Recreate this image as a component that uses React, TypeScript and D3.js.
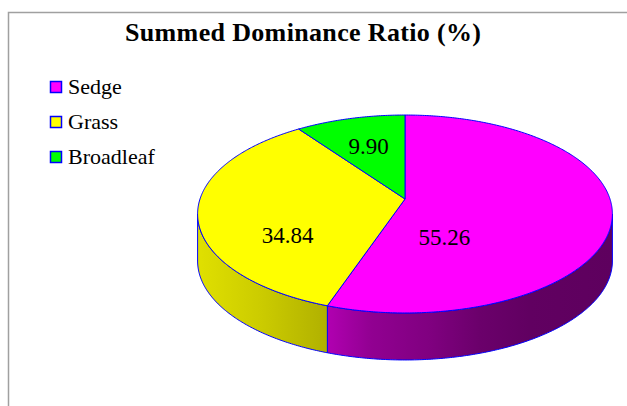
import React, { useEffect, useRef } from 'react';
import * as d3 from 'd3';

const categories = ['Sedge', 'Grass', 'Broadleaf'];
const values = [55.26, 34.84, 9.9];
const colors = ['#ff00ff', '#ffff00', '#00ff00'];
const labels = ['55.26', '34.84', '9.90'];
const title = 'Summed Dominance Ratio (%)';

const W = 627;
const H = 406;
const FONT = "'Liberation Serif', 'Times New Roman', Times, 'DejaVu Serif', serif";

export default function App() {
  const ref = useRef<SVGSVGElement>(null);

  useEffect(() => {
    const svg = d3.select(ref.current);
    svg.selectAll('*').remove();

    // pie geometry (perspective tilted disc)
    const cx = 405, cy = 199, rx = 205, ry = 96.7, k = -0.1515, depth = 47;
    const project = (t: number, r = 1): [number, number] => {
      const u = r * Math.sin(t);
      const v = -r * Math.cos(t);
      const d = 1 + k * v;
      return [cx + (rx * u) / d, cy + (ry * v) / d];
    };

    const fine = d3.range(0, 2 * Math.PI, 0.001);
    const tR = fine[d3.maxIndex(fine, (t) => project(t)[0])];
    const tL = fine[d3.minIndex(fine, (t) => project(t)[0])];
    const xMin = project(tL)[0];
    const xMax = project(tR)[0];

    const arcs = d3.pie<number>().sort(null).value((d) => d)(values);
    const line = d3.line<[number, number]>();
    const steps = (a: number, b: number) => {
      const n = Math.max(2, Math.ceil((b - a) / 0.01));
      return d3.range(n + 1).map((i) => a + ((b - a) * i) / n);
    };

    // frame
    svg.append('rect')
      .attr('x', 8.5).attr('y', 12.5)
      .attr('width', 700).attr('height', 500)
      .attr('fill', 'white')
      .attr('stroke', '#a0a0a0')
      .attr('stroke-width', 1.5);

    // side gradients
    const defs = svg.append('defs');
    const shade = [
      [0, 0.88], [0.15, 0.8], [0.315, 0.69], [0.42, 0.57],
      [0.56, 0.5], [0.68, 0.42], [0.8, 0.38], [1, 0.37],
    ];
    colors.forEach((c, i) => {
      const g = defs.append('linearGradient')
        .attr('id', `side${i}`)
        .attr('gradientUnits', 'userSpaceOnUse')
        .attr('x1', xMin).attr('x2', xMax)
        .attr('y1', 0).attr('y2', 0);
      shade.forEach(([o, f]) => {
        g.append('stop')
          .attr('offset', o)
          .attr('stop-color', d3.interpolateRgb(c, '#000')(1 - f));
      });
    });

    const sidePolys: ([number, number][] | null)[] = [];
    const topPolys: [number, number][][] = [];

    arcs.forEach((a, i) => {
      const s = Math.max(a.startAngle, tR);
      const e = Math.min(a.endAngle, tL);
      if (s < e) {
        const ts = steps(s, e);
        const top = ts.map((t) => project(t));
        const bot = ts.slice().reverse().map((t) => {
          const p = project(t);
          return [p[0], p[1] + depth] as [number, number];
        });
        sidePolys[i] = [...top, ...bot];
      } else {
        sidePolys[i] = null;
      }
      topPolys[i] = [[cx, cy], ...steps(a.startAngle, a.endAngle).map((t) => project(t))];
    });

    const pie = svg.append('g');
    sidePolys.forEach((p, i) => {
      if (!p) return;
      pie.append('path')
        .attr('d', line(p) + 'Z')
        .attr('fill', `url(#side${i})`)
        .attr('stroke', '#0000ff')
        .attr('stroke-width', 1)
        .attr('stroke-linejoin', 'round');
    });
    topPolys.forEach((p, i) => {
      pie.append('path')
        .attr('d', line(p) + 'Z')
        .attr('fill', colors[i])
        .attr('stroke', '#0000ff')
        .attr('stroke-width', 1)
        .attr('stroke-linejoin', 'round');
    });

    // data labels near centroid of visible faces (large slices pulled toward the middle)
    arcs.forEach((a, i) => {
      const polys = [topPolys[i], sidePolys[i]].filter(Boolean) as [number, number][][];
      let A = 0, X = 0, Y = 0;
      polys.forEach((p) => {
        const ar = Math.abs(d3.polygonArea(p));
        const c = d3.polygonCentroid(p);
        A += ar; X += c[0] * ar; Y += c[1] * ar;
      });
      const big = a.endAngle - a.startAngle > Math.PI;
      const lx = X / A + (cx - X / A) * (big ? 0.45 : 0);
      const ly = Y / A + (cy - Y / A) * (big ? 0.22 : 0);
      svg.append('text')
        .attr('x', lx)
        .attr('y', ly + 8)
        .attr('text-anchor', 'middle')
        .style('font-family', FONT)
        .style('font-size', '23px')
        .attr('fill', '#000')
        .text(labels[i]);
    });

    // title
    svg.append('text')
      .attr('x', 303)
      .attr('y', 41)
      .attr('text-anchor', 'middle')
      .attr('textLength', 356)
      .style('font-family', FONT)
      .style('font-weight', 'bold')
      .style('font-size', '26px')
      .text(title);

    // legend
    const lg = svg.append('g').attr('transform', 'translate(50,81)');
    categories.forEach((c, i) => {
      const row = lg.append('g').attr('transform', `translate(0,${i * 35})`);
      row.append('rect')
        .attr('x', 0.5).attr('y', 0.5)
        .attr('width', 11).attr('height', 11)
        .attr('fill', colors[i])
        .attr('stroke', '#0000ff')
        .attr('stroke-width', 1.5);
      row.append('text')
        .attr('x', 18)
        .attr('y', 13)
        .style('font-family', FONT)
        .style('font-size', '22px')
        .text(c);
    });
  }, []);

  return (
    <svg
      ref={ref}
      width={W}
      height={H}
      style={{ position: 'absolute', left: 0, top: 0, background: 'white' }}
    />
  );
}
